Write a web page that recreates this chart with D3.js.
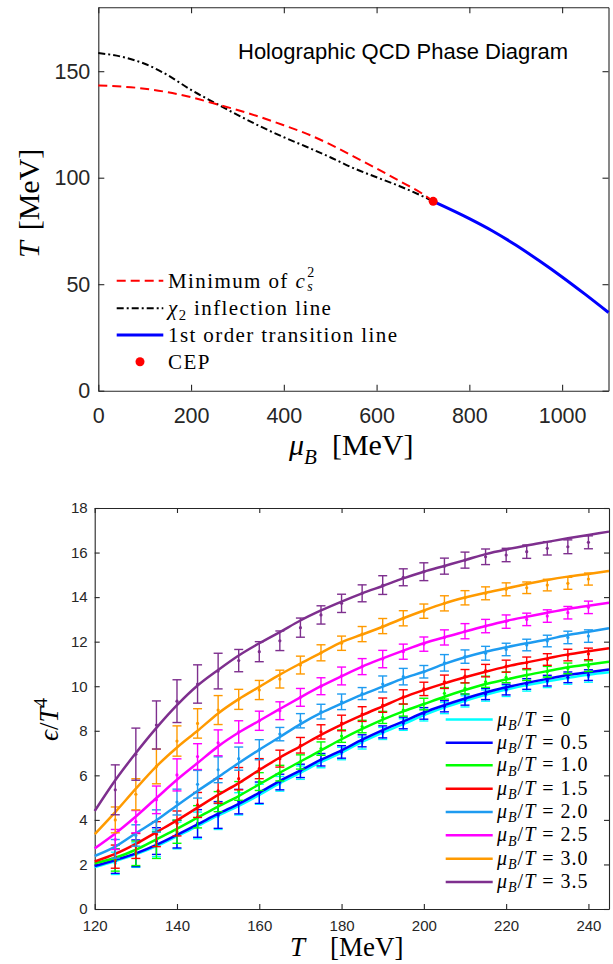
<!DOCTYPE html>
<html>
<head>
<meta charset="utf-8">
<script src="https://cdn.jsdelivr.net/npm/d3@7"></script>
<style>
body { margin: 0; background: #fff; }
</style>
</head>
<body>
<svg id="chart" width="613" height="964"></svg>
<script>
// **** Phase diagram data (top panel) ****
const muMinCs2 = [0, 100, 200, 250, 300, 350, 400, 450, 500, 550, 600, 650, 700, 722];
const tMinCs2  = [143.3, 141.8, 137.8, 134.8, 131.8, 128.4, 124.6, 120.6, 115.6, 110.0, 104.3, 98.4, 92.3, 88.9];

const muChi2 = [0, 50, 100, 150, 200, 250, 300, 350, 400, 450, 500, 550, 600, 650, 700, 722];
const tChi2  = [158.5, 156.8, 153.5, 148.1, 141.2, 135.3, 129.5, 124.0, 119.0, 114.4, 109.6, 104.5, 100.2, 96.0, 91.2, 88.9];

const muFirst = [722, 800, 850, 900, 950, 1000, 1050, 1100];
const tFirst  = [88.9, 80.8, 75.0, 68.4, 61.1, 53.4, 45.2, 36.7];

const cep = [722, 88.9];

const phaseXTicks = [0, 200, 400, 600, 800, 1000];
const phaseYTicks = [0, 50, 100, 150];

// **** Energy density data (bottom panel) ****
const muOverT = ['0', '0.5', '1.0', '1.5', '2.0', '2.5', '3.0', '3.5'];
const seriesColors = ['#00FFFF', '#0000FF', '#00FF00', '#FF0000', '#1E9BF0', '#FF00FF', '#FF9A00', '#7E2F8E'];

const tCurve = [120, 125, 130, 135, 140, 145, 150, 155, 160, 165, 170, 175, 180,
                185, 190, 195, 200, 205, 210, 215, 220, 225, 230, 235, 240, 245];

const curve00 = [1.88, 2.15, 2.45, 2.82, 3.27, 3.72, 4.20, 4.63, 5.12, 5.65, 6.12, 6.60, 7.02, 7.50, 7.92, 8.30, 8.70, 9.05, 9.35, 9.62, 9.85, 10.05, 10.22, 10.38, 10.52, 10.63];
const curve05 = [1.93, 2.20, 2.50, 2.88, 3.33, 3.80, 4.28, 4.72, 5.22, 5.75, 6.22, 6.70, 7.12, 7.60, 8.03, 8.42, 8.82, 9.15, 9.45, 9.72, 9.95, 10.15, 10.33, 10.50, 10.63, 10.75];
const curve10 = [2.05, 2.30, 2.66, 3.13, 3.60, 4.10, 4.60, 5.07, 5.60, 6.12, 6.62, 7.12, 7.62, 8.08, 8.50, 8.87, 9.20, 9.53, 9.83, 10.10, 10.30, 10.50, 10.68, 10.85, 10.98, 11.10];
const curve15 = [2.13, 2.47, 2.92, 3.45, 3.98, 4.55, 5.12, 5.65, 6.24, 6.80, 7.30, 7.82, 8.28, 8.70, 9.10, 9.50, 9.83, 10.13, 10.40, 10.65, 10.88, 11.07, 11.25, 11.43, 11.57, 11.70];
const curve20 = [2.38, 2.80, 3.40, 3.98, 4.65, 5.30, 5.92, 6.55, 7.15, 7.72, 8.30, 8.80, 9.22, 9.62, 9.98, 10.35, 10.65, 11.00, 11.30, 11.55, 11.75, 11.93, 12.10, 12.30, 12.45, 12.60];
const curve25 = [2.72, 3.39, 4.15, 4.98, 5.80, 6.55, 7.30, 7.92, 8.45, 8.98, 9.50, 10.00, 10.45, 10.88, 11.25, 11.60, 11.93, 12.20, 12.45, 12.70, 12.93, 13.12, 13.30, 13.47, 13.61, 13.75];
const curve30 = [3.36, 4.35, 5.40, 6.40, 7.25, 8.00, 8.78, 9.42, 9.97, 10.52, 11.02, 11.50, 11.98, 12.32, 12.67, 13.05, 13.40, 13.72, 13.98, 14.20, 14.39, 14.59, 14.77, 14.92, 15.04, 15.17];
const curve35 = [4.40, 5.78, 7.00, 8.13, 9.15, 10.03, 10.73, 11.38, 11.93, 12.43, 12.95, 13.40, 13.80, 14.17, 14.50, 14.84, 15.14, 15.40, 15.66, 15.93, 16.14, 16.32, 16.48, 16.64, 16.79, 16.94];

const tData = [125, 130, 135, 140, 145, 150, 155, 160, 165, 170, 175, 180,
               185, 190, 195, 200, 205, 210, 215, 220, 225, 230, 235, 240];

const data00 = [2.05, 2.42, 2.95, 3.30, 3.75, 4.15, 4.72, 5.15, 5.62, 6.12, 6.62, 6.98, 7.45, 7.88, 8.28, 8.70, 9.02, 9.32, 9.58, 9.78, 10.02, 10.18, 10.33, 10.42];
const err00  = [0.50, 0.55, 0.60, 0.60, 0.60, 0.58, 0.50, 0.45, 0.33, 0.30, 0.28, 0.28, 0.27, 0.27, 0.26, 0.26, 0.25, 0.25, 0.25, 0.24, 0.24, 0.24, 0.24, 0.24];
const data05 = [2.15, 2.50, 3.05, 3.36, 3.84, 4.22, 4.82, 5.22, 5.70, 6.20, 6.70, 7.05, 7.55, 7.95, 8.35, 8.78, 9.10, 9.40, 9.65, 9.85, 10.10, 10.25, 10.40, 10.50];
const err05  = [0.55, 0.60, 0.60, 0.62, 0.62, 0.60, 0.55, 0.48, 0.35, 0.30, 0.28, 0.28, 0.27, 0.27, 0.26, 0.26, 0.25, 0.25, 0.25, 0.24, 0.24, 0.24, 0.24, 0.24];
const data10 = [2.20, 2.50, 2.87, 3.47, 4.14, 4.82, 5.30, 5.72, 6.10, 6.60, 7.20, 7.76, 8.19, 8.60, 8.93, 9.20, 9.68, 9.90, 10.20, 10.40, 10.50, 10.65, 10.80, 10.90];
const err10  = [0.50, 0.55, 0.60, 0.52, 0.50, 0.45, 0.42, 0.40, 0.35, 0.32, 0.30, 0.28, 0.28, 0.27, 0.27, 0.26, 0.26, 0.25, 0.25, 0.24, 0.24, 0.24, 0.24, 0.24];
const data15 = [2.35, 2.83, 3.36, 3.84, 4.67, 5.30, 5.85, 6.30, 6.75, 7.35, 7.95, 8.35, 8.75, 9.15, 9.52, 9.88, 10.20, 10.45, 10.70, 10.90, 11.05, 11.20, 11.40, 11.45];
const err15  = [0.52, 0.56, 0.56, 0.56, 0.56, 0.55, 0.50, 0.45, 0.38, 0.35, 0.32, 0.35, 0.33, 0.32, 0.32, 0.30, 0.30, 0.30, 0.28, 0.27, 0.26, 0.26, 0.26, 0.26];
const data20 = [2.70, 3.30, 3.95, 4.80, 5.60, 6.25, 6.75, 7.15, 7.85, 8.45, 8.86, 9.30, 9.67, 10.10, 10.43, 10.65, 11.05, 11.33, 11.48, 11.65, 11.85, 12.03, 12.19, 12.25];
const err20  = [0.42, 0.48, 0.50, 0.58, 0.62, 0.58, 0.52, 0.45, 0.30, 0.32, 0.33, 0.35, 0.27, 0.36, 0.37, 0.28, 0.37, 0.30, 0.31, 0.28, 0.26, 0.26, 0.28, 0.28];
const data25 = [3.12, 3.92, 4.90, 6.02, 6.84, 7.46, 7.95, 8.45, 8.90, 9.50, 10.00, 10.46, 10.88, 11.22, 11.55, 11.89, 12.19, 12.47, 12.70, 12.90, 13.00, 13.15, 13.30, 13.54];
const err25  = [0.45, 0.50, 0.62, 0.72, 0.58, 0.58, 0.50, 0.43, 0.40, 0.40, 0.38, 0.40, 0.36, 0.39, 0.34, 0.32, 0.34, 0.34, 0.30, 0.30, 0.28, 0.28, 0.28, 0.28];
const data30 = [4.00, 5.15, 6.40, 7.54, 8.33, 8.93, 9.41, 9.83, 10.32, 10.95, 11.50, 11.93, 12.34, 12.70, 13.05, 13.37, 13.72, 13.97, 14.17, 14.35, 14.42, 14.54, 14.62, 14.81];
const err30  = [0.58, 0.70, 0.78, 0.68, 0.66, 0.65, 0.45, 0.43, 0.40, 0.40, 0.36, 0.32, 0.34, 0.34, 0.34, 0.32, 0.34, 0.32, 0.29, 0.29, 0.26, 0.26, 0.27, 0.27];
const data35 = [5.35, 6.95, 8.26, 9.33, 10.10, 10.68, 11.15, 11.55, 12.04, 12.63, 13.20, 13.72, 14.17, 14.54, 14.89, 15.14, 15.39, 15.66, 15.81, 15.89, 16.04, 16.19, 16.26, 16.46];
const err35  = [1.12, 1.17, 1.08, 0.96, 0.86, 0.80, 0.50, 0.45, 0.44, 0.43, 0.41, 0.41, 0.38, 0.42, 0.38, 0.40, 0.36, 0.36, 0.35, 0.30, 0.30, 0.30, 0.31, 0.29];

const curves = [curve00, curve05, curve10, curve15, curve20, curve25, curve30, curve35];
const dataPts = [data00, data05, data10, data15, data20, data25, data30, data35];
const dataErr = [err00, err05, err10, err15, err20, err25, err30, err35];

const energyXTicks = [120, 140, 160, 180, 200, 220, 240];
const energyYTicks = [0, 2, 4, 6, 8, 10, 12, 14, 16, 18];

// **** Helpers ****
const svg = d3.select('#chart');
const axisColor = '#262626';
const sans = "'Liberation Sans', Arial, sans-serif";
const serif = "'Liberation Serif', 'Times New Roman', serif";

// draws text made of parts: {t, i (italic), sub, sup, dx}
function mathText(g, x, y, parts, size, opts) {
    opts = opts || {};
    const txt = g.append('text')
        .attr('x', x).attr('y', y)
        .attr('font-family', serif)
        .attr('font-size', size)
        .attr('fill', '#000')
        .attr('letter-spacing', opts.spacing || 0)
        .attr('text-anchor', opts.anchor || 'start')
        .style('white-space', 'pre');
    let shift = 0;
    parts.forEach((p) => {
        const ts = txt.append('tspan').text(p.t);
        if (p.i) ts.attr('font-style', 'italic');
        if (p.dx) ts.attr('dx', p.dx);
        let target = 0;
        if (p.sub) target = size * (opts.subShift || 0.3);
        if (p.sup) target = -size * 0.42;
        if (p.sub || p.sup) ts.attr('font-size', size * 0.7);
        ts.attr('dy', target - shift);
        shift = target;
    });
    return txt;
}

function drawFrame(g, xScale, yScale, xTicks, yTicks, fontSize, tickLen, padX, padY) {
    const [x0, x1] = xScale.range();
    const [y0, y1] = yScale.range();
    const fmt = d3.format('d');

    const axB = g.append('g').attr('transform', `translate(0,${y0})`)
        .call(d3.axisBottom(xScale).tickValues(xTicks).tickFormat(fmt)
            .tickSize(-tickLen).tickSizeOuter(0).tickPadding(padX));
    const axL = g.append('g').attr('transform', `translate(${x0},0)`)
        .call(d3.axisLeft(yScale).tickValues(yTicks).tickFormat(fmt)
            .tickSize(-tickLen).tickSizeOuter(0).tickPadding(padY));
    const axT = g.append('g').attr('transform', `translate(0,${y1})`)
        .call(d3.axisTop(xScale).tickValues(xTicks).tickSize(-tickLen).tickSizeOuter(0).tickFormat(''));
    const axR = g.append('g').attr('transform', `translate(${x1},0)`)
        .call(d3.axisRight(yScale).tickValues(yTicks).tickSize(-tickLen).tickSizeOuter(0).tickFormat(''));

    [axB, axL, axT, axR].forEach((a) => {
        a.attr('color', axisColor)
         .attr('font-family', sans)
         .attr('font-size', fontSize);
        a.selectAll('path, line').attr('stroke-width', 1.1);
    });
}

// **** Top panel: phase diagram ****
const muScale = d3.scaleLinear().domain([0, 1100]).range([98.3, 608.5]);
const tScale = d3.scaleLinear().domain([0, 180]).range([390.7, 7.3]);

const phasePanel = svg.append('g');
drawFrame(phasePanel, muScale, tScale, phaseXTicks, phaseYTicks, 21.5, 6, 17, 8);

const phaseLine = d3.line()
    .x((d) => muScale(d[0]))
    .y((d) => tScale(d[1]))
    .curve(d3.curveMonotoneX);

phasePanel.append('path')
    .datum(d3.zip(muChi2, tChi2))
    .attr('d', phaseLine)
    .attr('fill', 'none').attr('stroke', '#000')
    .attr('stroke-width', 2).attr('stroke-dasharray', '7,3,2,3');

phasePanel.append('path')
    .datum(d3.zip(muMinCs2, tMinCs2))
    .attr('d', phaseLine)
    .attr('fill', 'none').attr('stroke', '#FF0000')
    .attr('stroke-width', 2).attr('stroke-dasharray', '9,5');

phasePanel.append('path')
    .datum(d3.zip(muFirst, tFirst))
    .attr('d', phaseLine)
    .attr('fill', 'none').attr('stroke', '#0000FF')
    .attr('stroke-width', 3);

phasePanel.append('circle')
    .attr('cx', muScale(cep[0])).attr('cy', tScale(cep[1]))
    .attr('r', 4.5).attr('fill', '#FF0000');

phasePanel.append('text')
    .attr('x', 238).attr('y', 59)
    .attr('font-family', sans).attr('font-size', 22)
    .attr('fill', '#000')
    .text('Holographic QCD Phase Diagram');

mathText(phasePanel, 289, 455, [{t: 'μ', i: true}, {t: 'B', i: true, sub: true}, {t: '[MeV]', dx: 15}], 30);
mathText(phasePanel.append('g').attr('transform', 'translate(39,258) rotate(-90)'), 0, 0,
    [{t: 'T', i: true}, {t: '[MeV]', dx: 11}], 30);

// legend
const phaseLegend = phasePanel.append('g');
const legY = [280.7, 308.3, 335, 361.7];
const legFont = 21;
const legSpacing = 1.4;
phaseLegend.append('line').attr('x1', 116.7).attr('x2', 163.3).attr('y1', legY[0]).attr('y2', legY[0])
    .attr('stroke', '#FF0000').attr('stroke-width', 2).attr('stroke-dasharray', '9,5');
phaseLegend.append('line').attr('x1', 116.7).attr('x2', 163.3).attr('y1', legY[1]).attr('y2', legY[1])
    .attr('stroke', '#000').attr('stroke-width', 2).attr('stroke-dasharray', '7,3,2,3');
phaseLegend.append('line').attr('x1', 116.7).attr('x2', 163.3).attr('y1', legY[2]).attr('y2', legY[2])
    .attr('stroke', '#0000FF').attr('stroke-width', 3);
phaseLegend.append('circle').attr('cx', 140).attr('cy', legY[3]).attr('r', 4.5).attr('fill', '#FF0000');

const minText = mathText(phaseLegend, 168, legY[0] + 7, [{t: 'Minimum of '}, {t: 'c', i: true}], legFont, {spacing: legSpacing});
const minLen = minText.node().getComputedTextLength();
mathText(phaseLegend, 168 + minLen + 1, legY[0] - 4, [{t: '2'}], 14);
mathText(phaseLegend, 168 + minLen + 1, legY[0] + 10, [{t: 's', i: true}], 14);
mathText(phaseLegend, 168, legY[1] + 7, [{t: 'χ', i: true}, {t: '2', sub: true}, {t: ' inflection line'}], legFont,
    {spacing: legSpacing, subShift: 0.2});
mathText(phaseLegend, 168, legY[2] + 7, [{t: '1st order transition line'}], legFont, {spacing: legSpacing});
mathText(phaseLegend, 168, legY[3] + 7, [{t: 'CEP'}], legFont, {spacing: legSpacing});

// **** Bottom panel: energy density ****
const tx = d3.scaleLinear().domain([120, 245]).range([94.7, 609]);
const ey = d3.scaleLinear().domain([0, 18]).range([909, 508]);

const energyPanel = svg.append('g');
drawFrame(energyPanel, tx, ey, energyXTicks, energyYTicks, 15, 5, 11, 7);

const energyLine = d3.line()
    .x((d) => tx(d[0]))
    .y((d) => ey(d[1]))
    .curve(d3.curveMonotoneX);

curves.forEach((vals, i) => {
    const color = seriesColors[i];
    const g = energyPanel.append('g');
    tData.forEach((t, j) => {
        const c = dataPts[i][j];
        const e = dataErr[i][j];
        const x = tx(t);
        g.append('line').attr('x1', x).attr('x2', x)
            .attr('y1', ey(c - e)).attr('y2', ey(c + e))
            .attr('stroke', color).attr('stroke-width', 1.4);
        [c - e, c + e].forEach((v) => {
            g.append('line').attr('x1', x - 4.5).attr('x2', x + 4.5)
                .attr('y1', ey(v)).attr('y2', ey(v))
                .attr('stroke', color).attr('stroke-width', 1.4);
        });
        g.append('circle').attr('cx', x).attr('cy', ey(c)).attr('r', 1.6).attr('fill', color);
    });
    g.append('path')
        .datum(d3.zip(tCurve, vals))
        .attr('d', energyLine)
        .attr('fill', 'none').attr('stroke', color)
        .attr('stroke-width', 2.5);
});

// legend
const eLegend = energyPanel.append('g');
const eLegY = [719.5, 742.7, 765.3, 788.7, 812, 835.3, 858.7, 882];
muOverT.forEach((m, i) => {
    eLegend.append('line')
        .attr('x1', 445.7).attr('x2', 492.7)
        .attr('y1', eLegY[i]).attr('y2', eLegY[i])
        .attr('stroke', seriesColors[i]).attr('stroke-width', 2.5);
    mathText(eLegend, 497, eLegY[i] + 6,
        [{t: 'μ', i: true}, {t: 'B', i: true, sub: true}, {t: '/'}, {t: 'T', i: true}, {t: ' = ' + m}],
        20, {spacing: 1, subShift: 0.22});
});

mathText(energyPanel, 290, 956, [{t: 'T', i: true}, {t: '[MeV]', dx: 25}], 27);
mathText(energyPanel.append('g').attr('transform', 'translate(58,741) rotate(-90)'), 0, 0,
    [{t: 'ϵ', i: true}, {t: '/'}, {t: 'T', i: true}, {t: '4', sup: true}], 27);
</script>
</body>
</html>
